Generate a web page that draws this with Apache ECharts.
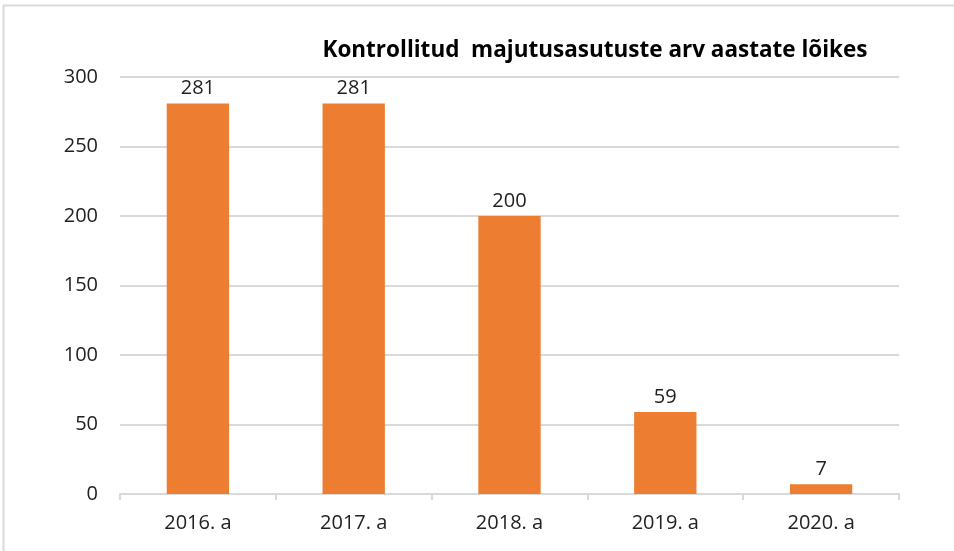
<!DOCTYPE html>
<html>
<head>
<meta charset="utf-8">
<script src="https://cdn.jsdelivr.net/npm/echarts@6/dist/echarts.min.js"></script>
<style>
    html, body { margin: 0; padding: 0; background: #fff; }
    #main { width: 954px; height: 551px; }
</style>
</head>
<body>
<div id="main"></div>
<script>
// andmed
let aastad = ['2016. a', '2017. a', '2018. a', '2019. a', '2020. a'];
let arvud = [281, 281, 200, 59, 7];
let yTicks = [0, 50, 100, 150, 200, 250, 300];

let myChart = echarts.init(document.getElementById('main'));
let font = '"Open Sans", "Noto Sans", sans-serif';
let option = {
    animation: false,
    backgroundColor: '#fff',
    title: {
        text: 'Kontrollitud  majutusasutuste arv aastate lõikes',
        left: 590,
        top: 34,
        textAlign: 'center',
        textStyle: {
            fontFamily: font,
            fontWeight: 'bold',
            fontSize: 22.5,
            color: '#000'
        }
    },
    graphic: [{
        type: 'rect',
        shape: { x: 3.5, y: 5.5, width: 970, height: 570 },
        style: { fill: 'none', stroke: '#d9d9d9', lineWidth: 2 },
        silent: true
    }],
    grid: { left: 120, right: 55, top: 77, bottom: 57 },
    xAxis: {
        type: 'category',
        data: aastad,
        axisLine: { lineStyle: { color: '#d9d9d9', width: 2 } },
        axisTick: { show: true, length: 6, lineStyle: { color: '#d9d9d9', width: 2 } },
        axisLabel: { fontFamily: font, fontSize: 20, color: '#222', margin: 19 }
    },
    yAxis: {
        type: 'value',
        min: yTicks[0],
        max: yTicks[yTicks.length - 1],
        interval: 50,
        axisLine: { show: false },
        axisTick: { show: false },
        splitLine: { lineStyle: { color: '#d9d9d9', width: 2 } },
        axisLabel: { fontFamily: font, fontSize: 20, color: '#222', margin: 22 }
    },
    series: [{
        type: 'bar',
        data: arvud,
        barWidth: '40%',
        itemStyle: { color: '#ED7D31' },
        label: {
            show: true,
            position: 'top',
            distance: 5,
            fontFamily: font,
            fontSize: 20,
            color: '#222'
        }
    }]
};
myChart.setOption(option);
</script>
</body>
</html>
